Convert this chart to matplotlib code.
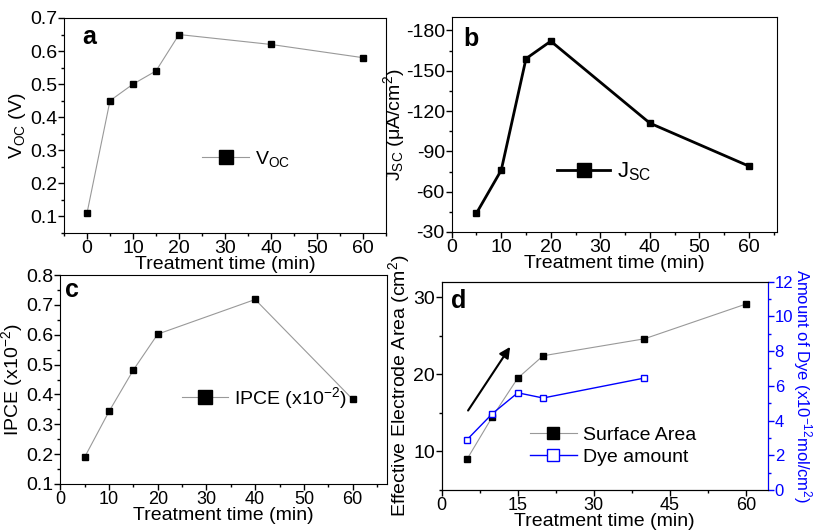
import numpy as np
import matplotlib
matplotlib.use("Agg")
import matplotlib.pyplot as plt
from matplotlib.ticker import MultipleLocator, AutoMinorLocator

plt.rcParams['font.family'] = ['Liberation Sans', 'DejaVu Sans']
plt.rcParams['axes.unicode_minus'] = False
plt.rcParams['mathtext.fontset'] = 'custom'
plt.rcParams['mathtext.rm'] = 'Liberation Sans'
plt.rcParams['mathtext.it'] = 'Liberation Sans'
plt.rcParams['mathtext.default'] = 'regular'

# data
t_voc = [0, 5, 10, 15, 20, 40, 60]
voc = [0.11, 0.45, 0.50, 0.54, 0.65, 0.62, 0.58]

t_jsc = [5, 10, 15, 20, 40, 60]
jsc = [-44, -76, -159, -172, -111, -79]

t_ipce = [5, 10, 15, 20, 40, 60]
ipce = [0.19, 0.343, 0.482, 0.602, 0.718, 0.384]

t_area = [5, 10, 15, 20, 40, 60]
area = [9.0, 14.5, 19.5, 22.4, 24.6, 29.1]

t_dye = [5, 10, 15, 20, 40]
dye = [2.9, 4.4, 5.6, 5.3, 6.45]

fs = 14
W, H = 814, 532


def box(l, r, t, b):
    return [l / W, (H - b) / H, (r - l) / W, (b - t) / H]


def style(ax, xmaj, ymaj, lp=-1, xfs=fs):
    ax.xaxis.set_major_locator(MultipleLocator(xmaj))
    ax.yaxis.set_major_locator(MultipleLocator(ymaj))
    ax.xaxis.set_minor_locator(AutoMinorLocator(2))
    ax.yaxis.set_minor_locator(AutoMinorLocator(2))
    ax.tick_params(which='major', direction='out', length=4, width=1, labelsize=fs, pad=1)
    ax.tick_params(which='minor', direction='out', length=2.5, width=1)
    ax.tick_params(axis='x', labelsize=xfs)
    ax.set_xlabel('Treatment time (min)', fontsize=fs, labelpad=lp)


fig = plt.figure(figsize=(W / 100, H / 100), dpi=100)

# a
ax1 = fig.add_axes(box(64, 386, 18, 233))
ax1.plot(t_voc, voc, color='#999999', lw=0.8, marker='s', ms=5, mfc='black', mec='black',
         label='V$_{OC}$')
ax1.set_xlim(-5, 65)
ax1.set_ylim(0.05, 0.7)
style(ax1, 10, 0.1)
ax1.set_ylabel('V$_{OC}$ (V)', fontsize=fs, labelpad=1)
ax1.legend(loc='center left', bbox_to_anchor=(0.43, 0.344), frameon=False, fontsize=fs,
           markerscale=2, handlelength=2.4, borderpad=0, borderaxespad=0, handletextpad=0.3)
ax1.text(0.056, 0.91, 'a', transform=ax1.transAxes, fontsize=18, fontweight='bold', va='center')

# b
ax2 = fig.add_axes(box(451.7, 776.7, 17, 232))
ax2.plot(t_jsc, jsc, color='black', lw=2, marker='s', ms=5, label='J$_{SC}$')
ax2.set_xlim(0, 65.6)
ax2.set_ylim(-30, -190)
style(ax2, 10, 30)
ax2.set_ylabel('J$_{SC}$ (μA/cm$^2$)', fontsize=fs, labelpad=-1)
ax2.legend(loc='center left', bbox_to_anchor=(0.324, 0.279), frameon=False, fontsize=fs + 2,
           markerscale=2, handlelength=2.4, borderpad=0, borderaxespad=0, handletextpad=0.3)
ax2.text(0.035, 0.90, 'b', transform=ax2.transAxes, fontsize=18, fontweight='bold', va='center')

# c
ax3 = fig.add_axes(box(60.3, 386.7, 275, 484))
ax3.plot(t_ipce, ipce, color='#999999', lw=0.8, marker='s', ms=5, mfc='black', mec='black',
         label='IPCE (x10$^{-2}$)')
ax3.set_xlim(0, 67)
ax3.set_ylim(0.1, 0.8)
style(ax3, 10, 0.1, lp=-1, xfs=13)
ax3.set_ylabel('IPCE (x10$^{-2}$)', fontsize=fs, labelpad=1)
ax3.legend(loc='center left', bbox_to_anchor=(0.372, 0.411), frameon=False, fontsize=fs,
           markerscale=2, handlelength=2.4, borderpad=0, borderaxespad=0, handletextpad=0.3)
ax3.text(0.015, 0.93, 'c', transform=ax3.transAxes, fontsize=18, fontweight='bold', va='center')

# d
ax4 = fig.add_axes(box(441.7, 767.7, 281.7, 490))
ax5 = ax4.twinx()
l1, = ax4.plot(t_area, area, color='#999999', lw=0.8, marker='s', ms=5, mfc='black', mec='black',
               label='Surface Area')
l2, = ax5.plot(t_dye, dye, color='blue', lw=1, marker='s', ms=5, mfc='white', mec='blue',
               label='Dye amount')
ax4.set_xlim(0, 64.3)
ax4.set_ylim(5, 32)
ax5.set_ylim(0, 12)
style(ax4, 15, 10, lp=-0.5, xfs=13)
ax5.yaxis.set_major_locator(MultipleLocator(2))
ax5.yaxis.set_minor_locator(AutoMinorLocator(2))
ax5.tick_params(which='major', direction='out', length=4, width=1, labelsize=12, pad=1,
                colors='blue')
ax5.tick_params(which='minor', direction='out', length=2.5, width=1, colors='blue')
ax5.spines['right'].set_color('blue')
ax4.set_ylabel('Effective Electrode Area (cm$^2$)', fontsize=fs, labelpad=1)
ax5.set_ylabel('Amount of Dye (x10$^{-12}$mol/cm$^2$)', fontsize=12, color='blue',
               rotation=-90, labelpad=14.5)
ax4.legend([l1, l2], ['Surface Area', 'Dye amount'], loc='center left',
           bbox_to_anchor=(0.271, 0.211), frameon=False, fontsize=fs, markerscale=1.8,
           handlelength=2.4, borderpad=0, borderaxespad=0, handletextpad=0.3, labelspacing=0.2)
ax4.annotate('', xy=(13.8, 23.85), xytext=(4.9, 15),
             arrowprops=dict(arrowstyle='-|>', lw=1.5, color='black', mutation_scale=16))
ax4.text(0.03, 0.906, 'd', transform=ax4.transAxes, fontsize=18, fontweight='bold', va='center')

fig.savefig('out.png', dpi=100)
